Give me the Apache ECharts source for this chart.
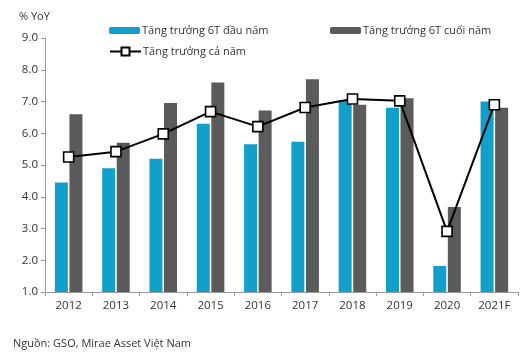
<!DOCTYPE html>
<html>
<head>
<meta charset="utf-8">
<script src="https://cdn.jsdelivr.net/npm/echarts@6/dist/echarts.min.js"></script>
<style>
  html, body { margin: 0; padding: 0; background: #fff; }
  #chart { width: 527px; height: 353px; }
</style>
</head>
<body>
<div id="chart"></div>
<script>
// du lieu
var years = ['2012', '2013', '2014', '2015', '2016', '2017', '2018', '2019', '2020', '2021F']
var dauNam = [4.45, 4.9, 5.2, 6.3, 5.65, 5.73, 7.05, 6.8, 1.82, 7.0]
var cuoiNam = [6.6, 5.7, 6.95, 7.6, 6.72, 7.7, 6.9, 7.1, 3.68, 6.8]
var caNam = [5.25, 5.42, 5.98, 6.68, 6.21, 6.81, 7.08, 7.02, 2.91, 6.9]

var font = 'Open Sans'

function initChart() {
    var myChart = echarts.init(document.getElementById('chart'))
    var option = {
        animation: false,
        textStyle: { fontFamily: font },
        title: [{
            text: '% YoY',
            left: 14,
            top: 6,
            textStyle: { fontSize: 11, fontWeight: 'normal', color: '#333', fontFamily: font }
        }, {
            text: 'Nguồn: GSO, Mirae Asset Việt Nam',
            left: 8,
            top: 333,
            textStyle: { fontSize: 11, fontWeight: 'normal', color: '#333', fontFamily: font }
        }],
        legend: [{
            data: ['Tăng trưởng 6T đầu năm'],
            left: 104, top: 20,
            itemWidth: 31, itemHeight: 7, itemGap: 4,
            textStyle: { fontSize: 11, color: '#333', padding: [0, 0, 0, -3] }
        }, {
            data: ['Tăng trưởng 6T cuối năm'],
            left: 325, top: 20,
            itemWidth: 31, itemHeight: 7,
            textStyle: { fontSize: 11, color: '#333', padding: [0, 0, 0, -3] }
        }, {
            data: ['Tăng trưởng cả năm'],
            left: 104, top: 41,
            itemWidth: 31, itemHeight: 10,
            textStyle: { fontSize: 11, color: '#333', padding: [0, 0, 0, -3] }
        }],
        grid: { left: 45, right: 9, top: 38, bottom: 61 },
        xAxis: {
            type: 'category',
            data: years,
            axisLine: { lineStyle: { color: '#9a9a9a', width: 1 } },
            axisTick: { show: true, length: 4, lineStyle: { color: '#9a9a9a' } },
            axisLabel: { fontSize: 11.5, color: '#333', margin: 8 }
        },
        yAxis: {
            type: 'value',
            min: 1, max: 9, interval: 1,
            axisLine: { show: true, lineStyle: { color: '#9a9a9a' } },
            axisTick: { show: true, length: 4, inside: false, lineStyle: { color: '#9a9a9a' } },
            splitLine: { show: false },
            axisLabel: {
                fontSize: 11.5, color: '#333', margin: 7,
                formatter: function(v) { return v.toFixed(1) }
            }
        },
        series: [{
            name: 'Tăng trưởng 6T đầu năm',
            type: 'bar',
            data: dauNam,
            barWidth: 13,
            barGap: '12%',
            itemStyle: { color: '#11a0c9' }
        }, {
            name: 'Tăng trưởng 6T cuối năm',
            type: 'bar',
            data: cuoiNam,
            barWidth: 13,
            itemStyle: { color: '#5b5b5b' }
        }, {
            name: 'Tăng trưởng cả năm',
            type: 'line',
            data: caNam,
            symbol: 'rect',
            symbolSize: 10,
            lineStyle: { color: '#000', width: 2 },
            itemStyle: { color: '#fff', borderColor: '#000', borderWidth: 1.6 },
            z: 5
        }]
    }
    myChart.setOption(option)
}

initChart()
</script>
</body>
</html>
